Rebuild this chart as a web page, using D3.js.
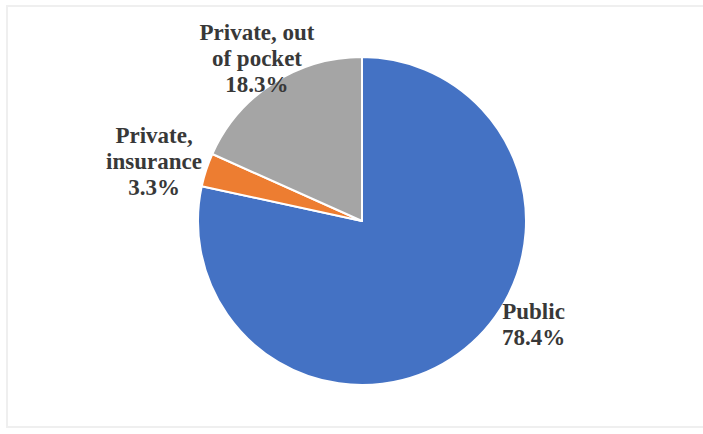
<!DOCTYPE html>
<html>
<head>
<meta charset="utf-8">
<script src="https://cdn.jsdelivr.net/npm/d3@7"></script>
<style>
  body { margin: 0; background: #fff; }
</style>
</head>
<body>
<div id="vis"></div>
<script>
const FRAME_WIDTH = 703;
const FRAME_HEIGHT = 434;
const CENTER = {x: 362, y: 221};
const RADIUS = 164;

// data
const categories = ["Public", "Private, insurance", "Private, out of pocket"];
const values = [78.4, 3.3, 18.3];
const labelLines = [["Public", "78.4%"], ["Private,", "insurance", "3.3%"], ["Private, out", "of pocket", "18.3%"]];
const colors = ["#4472C4", "#ED7D31", "#A5A5A5"];

// label nudges from the outer centroid (layout only)
const labelNudge = [[48, -50], [-21, 1], [2, 2]];
const LINE_H = 26;

const FRAME = d3.select("#vis")
  .append("svg")
    .attr("width", FRAME_WIDTH)
    .attr("height", FRAME_HEIGHT);

// faint chart-area border
FRAME.append("rect")
  .attr("x", 7).attr("y", 6)
  .attr("width", 720).attr("height", 421)
  .attr("fill", "none")
  .attr("stroke", "#efefef")
  .attr("stroke-width", 2);

const data = categories.map((c, i) => ({name: c, value: values[i], lines: labelLines[i], color: colors[i]}));

const pie = d3.pie().sort(null).value(d => d.value);
const arc = d3.arc().innerRadius(0).outerRadius(RADIUS);
const labelArc = d3.arc().innerRadius(RADIUS * 1.2).outerRadius(RADIUS * 1.2);

const G = FRAME.append("g")
  .attr("transform", `translate(${CENTER.x},${CENTER.y})`);

const arcs = pie(data);

G.selectAll("path.slice")
  .data(arcs)
  .enter()
  .append("path")
    .attr("class", "slice")
    .attr("d", arc)
    .attr("fill", d => d.data.color)
    .attr("stroke", "#fff")
    .attr("stroke-width", 2)
    .attr("stroke-linejoin", "round");

const labels = G.selectAll("text.label")
  .data(arcs)
  .enter()
  .append("text")
    .attr("class", "label")
    .attr("font-family", "'Liberation Serif', 'Times New Roman', Times, serif")
    .attr("font-weight", "bold")
    .attr("font-size", 23)
    .attr("fill", "#383838")
    .attr("text-anchor", "middle")
    .attr("transform", (d, i) => {
      const c = labelArc.centroid(d);
      return `translate(${c[0] + labelNudge[i][0]},${c[1] + labelNudge[i][1]})`;
    });

labels.each(function(d) {
  const n = d.data.lines.length;
  d3.select(this).selectAll("tspan")
    .data(d.data.lines)
    .enter()
    .append("tspan")
      .attr("x", 0)
      .attr("y", (t, j) => (j - (n - 1) / 2) * LINE_H + 8)
      .text(t => t);
});
</script>
</body>
</html>
